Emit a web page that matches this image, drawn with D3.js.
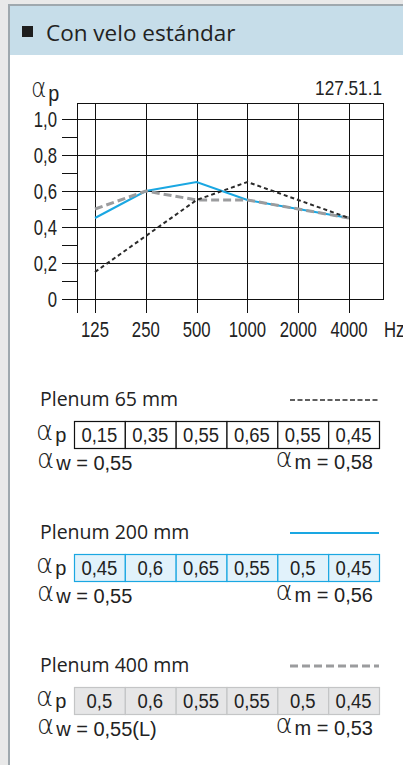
<!DOCTYPE html>
<html>
<head>
<meta charset="utf-8">
<title>Con velo estándar</title>
<script src="https://cdn.jsdelivr.net/npm/d3@7"></script>
<style>
  body { margin: 0; background: #e9e9e9; }
  svg { display: block; }
  .tick-lbl { font-family: "Liberation Sans", Arial, sans-serif; font-size: 22px; fill: #222; }
  .lbl { font-family: "Liberation Sans", Arial, sans-serif; fill: #222; }
  .ttl { font-family: "Open Sans", "Noto Sans", sans-serif; fill: #222; }
  .alpha { font-family: "DejaVu Sans", sans-serif; font-weight: 200; font-size: 26px; }
</style>
</head>
<body>
<div id="chart"></div>
<script>
// data
const freqs = ["125", "250", "500", "1000", "2000", "4000"];
const yTicks = [0, 0.2, 0.4, 0.6, 0.8, 1.0];
const yTickLabels = ["0", "0,2", "0,4", "0,6", "0,8", "1,0"];
const yMinor = [0.1, 0.3, 0.5, 0.7, 0.9];
const plenum65 = [0.15, 0.35, 0.55, 0.65, 0.55, 0.45];
const plenum200 = [0.45, 0.6, 0.65, 0.55, 0.5, 0.45];
const plenum400 = [0.5, 0.6, 0.55, 0.55, 0.5, 0.45];
const seriesNames = ["Plenum 65 mm", "Plenum 200 mm", "Plenum 400 mm"];
const alphaW = ["0,55", "0,55", "0,55(L)"];
const alphaM = ["0,58", "0,56", "0,53"];

const W = 403, H = 765;
const narrow = 0.76; // condensed look of the chart labels
const svg = d3.select("#chart").append("svg").attr("width", W).attr("height", H);

// panel + header
svg.append("rect").attr("x", 9).attr("y", 5).attr("width", W).attr("height", H)
  .attr("fill", "#fff").attr("stroke", "#9fa8ae").attr("stroke-width", 2);
svg.append("rect").attr("x", 10).attr("y", 6).attr("width", W).attr("height", 49).attr("fill", "#c6dde9");
svg.append("rect").attr("x", 22).attr("y", 26).attr("width", 11).attr("height", 11).attr("fill", "#1e1e1e");
svg.append("text").attr("class", "ttl").attr("x", 46).attr("y", 41)
  .style("font-size", "22.5px").text("Con velo estándar");

// chart
const x = d3.scalePoint().domain(freqs).range([95, 349]);
const y = d3.scaleLinear().domain([0, 1]).range([299, 119]);
const frame = { left: 77, right: 383, top: 103 };
const g = svg.append("g").attr("shape-rendering", "crispEdges");

g.selectAll(".hgrid").data(yTicks).join("line")
  .attr("x1", 62).attr("x2", frame.right)
  .attr("y1", d => Math.round(y(d)) + 0.5).attr("y2", d => Math.round(y(d)) + 0.5)
  .attr("stroke", "#111");
g.selectAll(".minor").data(yMinor).join("line").attr("class", "minor")
  .attr("x1", 62).attr("x2", frame.left)
  .attr("y1", d => Math.round(y(d)) + 0.5).attr("y2", d => Math.round(y(d)) + 0.5)
  .attr("stroke", "#111");
g.append("line").attr("x1", frame.left).attr("x2", frame.right + 0.5)
  .attr("y1", frame.top + 0.5).attr("y2", frame.top + 0.5).attr("stroke", "#111");
g.append("line").attr("x1", frame.left + 0.5).attr("x2", frame.left + 0.5)
  .attr("y1", frame.top).attr("y2", 313).attr("stroke", "#111");
g.append("line").attr("x1", frame.right + 0.5).attr("x2", frame.right + 0.5)
  .attr("y1", frame.top).attr("y2", y(0) + 1).attr("stroke", "#111");
g.selectAll(".vgrid").data(freqs).join("line")
  .attr("x1", d => Math.round(x(d)) + 0.5).attr("x2", d => Math.round(x(d)) + 0.5)
  .attr("y1", frame.top).attr("y2", 313).attr("stroke", "#111");

// tick labels (squeezed horizontally)
const place = (px, py, sx) => `translate(${px},${py}) scale(${sx || narrow},1)`;
svg.selectAll(".ylbl").data(yTicks).join("text").attr("class", "tick-lbl")
  .attr("transform", d => place(57, y(d) + 8)).attr("text-anchor", "end")
  .text((d, i) => yTickLabels[i]);
svg.selectAll(".xlbl").data(freqs).join("text").attr("class", "tick-lbl")
  .attr("transform", d => place(x(d), 337)).attr("text-anchor", "middle").text(d => d);
svg.append("text").attr("class", "tick-lbl").attr("transform", place(384, 337)).text("Hz");

// axis title and code
const ap = svg.append("text").attr("class", "tick-lbl").attr("transform", place(31, 101, 0.9));
ap.append("tspan").attr("class", "alpha").attr("dy", -4).text("α");
ap.append("tspan").attr("dy", 4).attr("dx", 2).text("p");
svg.append("text").attr("class", "tick-lbl").attr("transform", place(382, 95, 0.86))
  .attr("text-anchor", "end").style("font-size", "20px").text("127.51.1");

// lines
const line = d3.line().x((d, i) => x(freqs[i])).y(d => y(d));
const styles = [
  { data: plenum65, stroke: "#2b2b2b", width: 2, dash: "4,3" },
  { data: plenum200, stroke: "#1aa7e2", width: 2, dash: null },
  { data: plenum400, stroke: "#9b9c9e", width: 3, dash: "8,4" }
];
[1, 2, 0].forEach(k => {
  const s = styles[k];
  svg.append("path").datum(s.data).attr("d", line).attr("fill", "none")
    .attr("stroke", s.stroke).attr("stroke-width", s.width)
    .attr("stroke-dasharray", s.dash);
});

// legend tables
const tables = [
  { border: "#111", fill: "#fff" },
  { border: "#1aa7e2", fill: "#e1f2fb" },
  { border: "#c4c5c6", fill: "#e6e6e7" }
];
const cx = d3.scaleBand().domain(freqs).range([74, 379]);
const fmt = v => String(v).replace(".", ",");

styles.forEach((s, k) => {
  const top = 392 + k * 133;
  const sec = svg.append("g");
  sec.append("text").attr("class", "ttl").attr("x", 40).attr("y", top + 14)
    .style("font-size", "19.5px").text(seriesNames[k]);
  sec.append("line").attr("x1", 290).attr("x2", 379).attr("y1", top + 8).attr("y2", top + 8)
    .attr("stroke", s.stroke).attr("stroke-width", k === 0 ? 1.5 : s.width)
    .attr("stroke-dasharray", k === 0 ? "5,2.5" : s.dash);

  const ty = top + 29, th = 27;
  const lab = sec.append("text").attr("class", "lbl").attr("x", 36).attr("y", ty + 21).style("font-size", "20px");
  lab.append("tspan").attr("class", "alpha").attr("dy", -2).text("α");
  lab.append("tspan").attr("dy", 2).attr("dx", 2).text("p");

  sec.selectAll("rect.cell").data(s.data).join("rect").attr("class", "cell")
    .attr("x", (d, i) => cx(freqs[i]) + 0.5).attr("y", ty + 0.5)
    .attr("width", cx.bandwidth()).attr("height", th)
    .attr("fill", tables[k].fill).attr("stroke", tables[k].border).attr("stroke-width", 1.2);
  sec.selectAll("text.cv").data(s.data).join("text").attr("class", "lbl cv")
    .attr("transform", (d, i) => place(cx(freqs[i]) + cx.bandwidth() / 2, ty + 21, 0.88))
    .attr("text-anchor", "middle").style("font-size", "21px").text(d => fmt(d));

  const by = ty + th + 22;
  const tw = sec.append("text").attr("class", "lbl").attr("x", 37).attr("y", by).style("font-size", "20px");
  tw.append("tspan").attr("class", "alpha").attr("dy", -2).text("α");
  tw.append("tspan").attr("dy", 2).attr("dx", 2).text("w = " + alphaW[k]);
  const tm = sec.append("text").attr("class", "lbl").attr("x", 373).attr("y", by - 1)
    .attr("text-anchor", "end").style("font-size", "20px");
  tm.append("tspan").attr("class", "alpha").attr("dy", -2).text("α");
  tm.append("tspan").attr("dy", 2).attr("dx", 2).text("m = " + alphaM[k]);
});
</script>
</body>
</html>
